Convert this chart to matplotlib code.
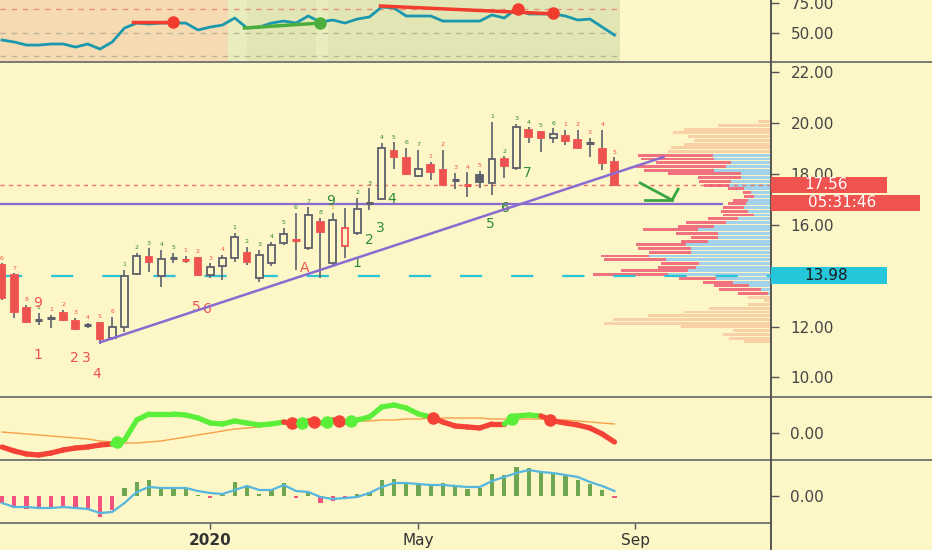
import numpy as np
import matplotlib.pyplot as plt
from matplotlib.patches import Rectangle
from matplotlib.collections import LineCollection
from matplotlib.lines import Line2D
import matplotlib.transforms as mtransforms

W, H = 932, 550
BG = '#fdf6c6'
GRAY = '#5d606b'
RED = '#ef5350'
GRN = '#2e8b36'
PURPLE = '#8a6bd1'

# weekly candles (index 0..50)
opens = [14.43, 14.03, 12.73, 12.24, 12.33, 12.54, 12.22, 12.06, 12.15, 11.55,
         11.99, 14.07, 14.74, 13.99, 14.69, 14.63, 14.70, 14.03, 14.39, 14.70,
         14.90, 13.91, 14.50, 15.29, 15.40, 15.09, 16.12, 14.50, 15.17, 15.68,
         16.85, 17.02, 18.91, 18.63, 17.93, 18.36, 18.16, 17.76, 17.59, 17.97,
         17.65, 18.60, 18.24, 19.74, 19.66, 19.42, 19.50, 19.34, 19.22, 18.99,
         18.48]
highs = [14.50, 14.10, 12.85, 12.54, 12.46, 12.66, 12.34, 12.15, 12.20, 12.38,
         14.23, 14.90, 15.09, 15.02, 14.90, 14.78, 14.75, 14.50, 14.82, 15.69,
         15.13, 15.02, 15.33, 15.88, 16.47, 16.71, 16.28, 16.47, 16.67, 17.06,
         17.45, 19.23, 19.26, 19.03, 18.95, 18.48, 18.95, 18.05, 18.08, 18.12,
         20.05, 18.70, 19.97, 19.85, 19.70, 19.81, 19.74, 19.74, 19.42, 19.74,
         18.67]
lows = [13.05, 12.34, 12.15, 12.07, 11.95, 12.22, 11.86, 11.95, 11.32, 11.48,
        11.79, 14.03, 14.15, 13.56, 14.50, 14.50, 14.00, 13.91, 13.84, 14.54,
        14.43, 13.76, 14.39, 15.21, 14.23, 15.02, 13.91, 14.35, 14.70, 15.60,
        16.59, 16.98, 18.20, 17.98, 17.90, 17.77, 17.55, 17.42, 17.10, 17.45,
        17.18, 17.85, 18.16, 19.23, 18.87, 19.23, 19.15, 19.00, 18.67, 18.16,
        17.55]
closes = [13.13, 12.58, 12.18, 12.26, 12.34, 12.26, 11.90, 12.07, 11.52, 11.99,
          13.99, 14.78, 14.54, 14.66, 14.70, 14.60, 14.03, 14.35, 14.70, 15.53,
          14.54, 14.82, 15.21, 15.64, 15.38, 16.39, 15.72, 16.20, 15.88, 16.63,
          16.89, 19.03, 18.67, 18.01, 18.20, 18.08, 17.57, 17.77, 17.57, 17.69,
          18.60, 18.32, 19.85, 19.46, 19.42, 19.58, 19.30, 19.03, 19.23, 18.44,
          17.56]

count_lbl = ['6', '7', '8', '1', '1', '2', '3', '4', '5', '6',
             '1', '2', '3', '4', '5', '1', '2', '3', '4', '1',
             '2', '3', '4', '5', '6', '7', '8', '1', '', '2',
             '3', '4', '5', '6', '7', '1', '2', '3', '4', '5',
             '1', '2', '3', '4', '5', '6', '1', '2', '3', '4',
             '5']
count_col = ['r', 'r', 'r', 'g', 'r', 'r', 'r', 'r', 'r', 'r',
             'g', 'g', 'g', 'g', 'g', 'r', 'r', 'r', 'r', 'g',
             'g', 'g', 'g', 'g', 'g', 'g', 'g', 'o', 'g', 'g',
             'g', 'g', 'g', 'g', 'g', 'r', 'r', 'r', 'r', 'r',
             'g', 'g', 'g', 'g', 'g', 'g', 'r', 'r', 'r', 'r',
             'r']

big_t = ['9', '1', '2', '3', '4', '5', '6', 'A', '9', '1', '2', '3', '4', '5', '6', '7']
big_x = [2.9, 2.9, 5.9, 6.9, 7.75, 15.9, 16.8, 24.7, 26.8, 29.0, 30.0, 30.9, 31.8, 39.9, 41.1, 42.9]
big_y = [12.93, 10.88, 10.76, 10.76, 10.14, 12.77, 12.69, 14.31, 16.95, 14.50, 15.41, 15.88, 17.02, 16.03, 16.67, 18.04]
big_c = ['r'] * 8 + ['g'] * 8

# trend / levels
trend_x = [8, 54.0]
trend_y = [11.38, 18.67]
hline_level = 16.83
hline_end = 58.9
last_price = 17.56
poc_level = 13.98
arrow_x = [52.1, 54.7, 55.2]
arrow_y = [17.65, 16.98, 17.41]
arrow_base_x = [52.5, 54.7]
arrow_base_y = [16.98, 16.98]

# volume profile rows, top to bottom
prof_top, prof_bot = 20.06, 11.40
prof_total = [13, 53, 87, 98, 83, 77, 87, 100, 103,
              133, 130, 115, 135, 127, 103, 73, 72, 67, 43,
              28, 27, 38, 43, 48, 50, 48, 63, 85, 93,
              128, 95, 80, 90, 135, 133, 122, 170, 167, 110,
              113, 150, 178, 92, 68, 57, 52, 33,
              23, 7, 23, 62, 87, 123, 158, 167, 90, 38, 48, 42, 27]
prof_up = [0] * 9 + [58, 57, 40, 45, 57, 30, 30, 40, 42, 27,
                     20, 17, 23, 25, 27, 23, 17, 33, 45, 57,
                     73, 53, 53, 63, 85, 80, 80, 122, 105, 72,
                     75, 83, 103, 55, 38, 22, 10, 3] + [0] * 13
va_first, va_last = 9, 46

# RSI panel
rsi = [43.8, 42.1, 39.5, 39.5, 40.4, 40.4, 37.8, 40.4, 36.1, 42.1,
       54.0, 58.2, 57.4, 58.2, 58.2, 58.2, 52.3, 54.8, 56.5, 62.5,
       54.0, 54.8, 58.2, 59.9, 58.2, 64.2, 59.1, 60.8, 58.2, 61.6,
       63.4, 71.9, 71.0, 64.2, 64.2, 64.2, 59.9, 59.9, 59.9, 59.9,
       65.1, 62.5, 70.2, 65.9, 65.9, 65.9, 64.2, 60.8, 61.6, 54.8,
       48.0]
div_lines = [([10.7, 14.1], [59.1, 59.1], 'r'),
             ([19.8, 26.0], [54.0, 58.2], 'g'),
             ([30.9, 45.1], [72.7, 66.0], 'r')]
div_dots_x = [14.0, 26.0, 42.1, 45.0]
div_dots_y = [59.1, 58.2, 70.2, 66.6]
div_dots_c = ['r', 'g', 'r', 'r']

# oscillator panel
osc_fast = [-1.4, -1.8, -2.1, -2.2, -2.0, -1.7, -1.5, -1.4, -1.2, -1.1,
            -0.7, 1.3, 1.9, 1.9, 1.9, 1.8, 1.5, 1.0, 0.9, 1.2,
            1.0, 0.8, 0.9, 1.1, 0.9, 1.2, 1.0, 1.3, 1.1, 1.3,
            1.6, 2.6, 2.8, 2.5, 1.9, 1.6, 1.1, 0.7, 0.6, 0.5,
            0.9, 0.9, 1.7, 1.8, 1.7, 1.2, 1.0, 0.8, 0.5, -0.1,
            -0.9]
osc_slow = [0.1, 0.0, -0.1, -0.2, -0.3, -0.4, -0.5, -0.6, -0.8, -0.9,
            -1.0, -1.0, -0.9, -0.8, -0.6, -0.4, -0.2, 0.0, 0.2, 0.4,
            0.5, 0.6, 0.8, 0.9, 1.0, 1.1, 1.1, 1.2, 1.2, 1.2,
            1.2, 1.3, 1.3, 1.4, 1.4, 1.5, 1.5, 1.5, 1.5, 1.5,
            1.4, 1.4, 1.4, 1.4, 1.4, 1.3, 1.3, 1.2, 1.1, 1.0,
            0.9]

# histogram panel
hist = [-7, -12, -13, -13, -13, -11, -13, -13, -21, -14,
        8, 14, 16, 8, 8, 8, 1, -2, 1, 14,
        10, 2, 7, 13, -2, 4, -7, -5, -3, 2,
        4, 16, 17, 13, 13, 11, 13, 11, 7, 8,
        22, 21, 29, 28, 23, 23, 20, 16, 12, 6,
        -2]
hist_line = [-7, -11, -11, -12, -12, -11, -12, -13, -17, -16,
             -7, 4, 9, 8, 8, 8, 5, 3, 2, 6,
             10, 6, 6, 11, 5, 4, -1, -3, -2, -1,
             3, 9, 13, 13, 12, 11, 11, 10, 9, 9,
             15, 19, 23, 26, 24, 23, 21, 19, 14, 10,
             5]

date_ticks = [17, 34, 51.7]
date_labels = ['2020', 'May', 'Sep']

n = len(closes)
XL = (-0.163, 62.78)
cmap = {'r': RED, 'g': GRN, 'o': '#f39a2b'}

plt.rcParams['font.family'] = ['DejaVu Sans']
fig = plt.figure(figsize=(W / 100, H / 100), dpi=100)
fig.patch.set_facecolor(BG)


def pos(top, bot):
    return [0, 1 - bot / H, 771 / W, (bot - top) / H]


def style(a, ticks, labels):
    a.patch.set_visible(False)
    for s in a.spines.values():
        s.set_visible(False)
    a.set_xlim(XL)
    a.yaxis.tick_right()
    a.set_yticks(ticks)
    a.set_yticklabels(labels)
    a.tick_params(axis='y', length=6, width=1, color='#555555', pad=8,
                  labelsize=11, labelcolor='#444444')
    a.tick_params(axis='x', bottom=False, labelbottom=False)


axr = fig.add_axes(pos(0, 62))
ax = fig.add_axes(pos(62, 397))
axp = ax.twiny()
axo = fig.add_axes(pos(397, 460))
axh = fig.add_axes(pos(460, 523))

# ---- RSI panel
style(axr, [50, 75], ['50.00', '75.00'])
axr.set_ylim(25.1, 77.8)
axr.axvspan(XL[0], 18.45, color='#f6dbb2', lw=0)
axr.axvspan(18.45, 50.45, color='#e2e6b4', lw=0)
axr.axvspan(18.45, 20.0, color='#e9ecbc', lw=0)
axr.axvspan(25.6, 26.6, color='#e9ecbc', lw=0)
axr.hlines(70, XL[0], 50.45, colors='#e6907e', linestyles=(0, (4, 4)), lw=1)
axr.hlines([50, 30], XL[0], 50.45, colors='#bdb597', linestyles=(0, (4, 4)), lw=1)
axr.plot(range(n), rsi, color='#1b98ad', lw=2, zorder=3)
for xs, ys, c in div_lines:
    axr.plot(xs, ys, color='#f23c2e' if c == 'r' else '#4cae3c', lw=2.5, zorder=4)
for x, y, c in zip(div_dots_x, div_dots_y, div_dots_c):
    axr.plot(x, y, 'o', ms=8, color='#f23c2e' if c == 'r' else '#4cae3c', zorder=5)

# ---- main price panel (14.00 sits under the 13.98 label)
style(ax, [10, 12, 14, 16, 18, 20, 22], ['10.00', '12.00', '', '16.00', '18.00', '20.00', '22.00'])
ax.set_ylim(9.23, 22.41)
ax.set_zorder(2)
axp.set_zorder(1)
axp.axis('off')
axp.set_xlim(771, 0)
levels = np.linspace(prof_top, prof_bot, len(prof_total))
for k, (lv, tot, up) in enumerate(zip(levels, prof_total, prof_up)):
    if va_first <= k <= va_last:
        axp.barh(lv, up, left=0, height=0.115, color='#a2d2ea', lw=0)
        axp.barh(lv, tot - up, left=up, height=0.115, color='#f0717f', lw=0)
    else:
        axp.barh(lv, tot, left=0, height=0.115, color='#f9d1a6', lw=0)

ax.hlines(poc_level, XL[0], XL[1], colors='#2cc3d8', linestyles=(0, (10, 13)), lw=1.6, zorder=2)
ax.hlines(last_price, XL[0], XL[1], colors=RED, linestyles=(0, (3, 3)), lw=1, alpha=0.8, zorder=2)
ax.hlines(hline_level, XL[0], hline_end, colors=PURPLE, lw=1.6, zorder=2)
ax.plot(trend_x, trend_y, color=PURPLE, lw=1.8, zorder=6)

for i in range(n):
    o, h, l, c = opens[i], highs[i], lows[i], closes[i]
    prev = closes[i - 1] if i else o
    col = RED if c < prev else GRAY
    ax.vlines(i, l, h, color=GRAY, lw=1.2, zorder=3)
    lo, hi = min(o, c), max(o, c)
    if hi - lo < 0.06:
        ax.hlines((o + c) / 2, i - 0.3, i + 0.3, color=col, lw=2.2, zorder=4)
    else:
        fc = BG if c > o else col
        ax.add_patch(Rectangle((i - 0.28, lo), 0.56, hi - lo, facecolor=fc,
                               edgecolor=col, lw=1.3, zorder=4))
    if count_lbl[i]:
        ax.text(i, h + 0.1, count_lbl[i], fontsize=4.5, color=cmap[count_col[i]],
                ha='center', va='bottom', zorder=5)

for x, y, t, c in zip(big_x, big_y, big_t, big_c):
    ax.text(x, y, t, fontsize=10, color=cmap[c], ha='center', va='center', zorder=5)

ax.plot(arrow_x, arrow_y, color='#3aa640', lw=2, zorder=6)
ax.plot(arrow_base_x, arrow_base_y, color='#3aa640', lw=2, zorder=6)

# price labels on the axis
bt = mtransforms.blended_transform_factory(ax.transAxes, ax.transData)
boxes = [(17.26, 17.89, 887, '17.56', RED, 'white'),
         (16.55, 17.18, 920, '05:31:46', RED, 'white'),
         (13.68, 14.35, 887, '13.98', '#26c6da', '#1a1a1a')]
for y0, y1, xr, txt, fc, tc in boxes:
    ax.add_patch(Rectangle((1.0, y0), (xr - 771) / 771, y1 - y0, transform=bt,
                           facecolor=fc, edgecolor='none', clip_on=False, zorder=10))
    ax.text((771 + xr) / 2 / 771 - 0.004, (y0 + y1) / 2, txt, transform=bt, color=tc,
            fontsize=11, ha='center', va='center', zorder=11, clip_on=False)

# ---- oscillator panel
style(axo, [0], ['0.00'])
axo.set_ylim(-2.7, 3.6)
xs = np.arange(n)
fast = np.array(osc_fast)
slow = np.array(osc_slow)
segs, cols = [], []
for i in range(1, n):
    segs.append([(i - 1, fast[i - 1]), (i, fast[i])])
    cols.append('#5cef3a' if fast[i] >= slow[i] else '#f44336')
axo.add_collection(LineCollection(segs, colors=cols, linewidths=3.8, capstyle='round', zorder=3))
axo.plot(xs, slow, color='#f7a048', lw=1, zorder=2)
d = fast - slow
for i in range(1, n):
    if np.sign(d[i]) != np.sign(d[i - 1]):
        t = d[i - 1] / (d[i - 1] - d[i])
        xc = i - 1 + t
        yc = slow[i - 1] + t * (slow[i] - slow[i - 1])
        axo.plot(xc, yc, 'o', ms=8, color='#5cef3a' if d[i] > 0 else '#f44336', zorder=4)

# ---- histogram panel
style(axh, [0], ['0.00'])
axh.set_ylim(-27, 36)
hv = np.array(hist)
axh.bar(xs, hv, width=0.36, color=np.where(hv >= 0, '#6ea652', '#f2537f'), zorder=2)
axh.plot(xs, hist_line, color='#55b6df', lw=1.6, zorder=3)
axh.set_xticks(date_ticks)
axh.set_xticklabels(date_labels)
axh.tick_params(axis='x', bottom=True, labelbottom=True, length=4, width=1,
                color='#555555', pad=3, labelsize=11, labelcolor='#333333')
axh.get_xticklabels()[0].set_fontweight('bold')

# panel separators and price axis line
for y in [62, 397, 460]:
    fig.add_artist(Line2D([0, 1], [1 - y / H] * 2, color='#707070', lw=1.3))
fig.add_artist(Line2D([0, 771 / W], [1 - 523 / H] * 2, color='#707070', lw=1.3))
fig.add_artist(Line2D([771 / W] * 2, [0, 1], color='#555555', lw=1.4))

fig.savefig('out.png', dpi=100, facecolor=BG)
